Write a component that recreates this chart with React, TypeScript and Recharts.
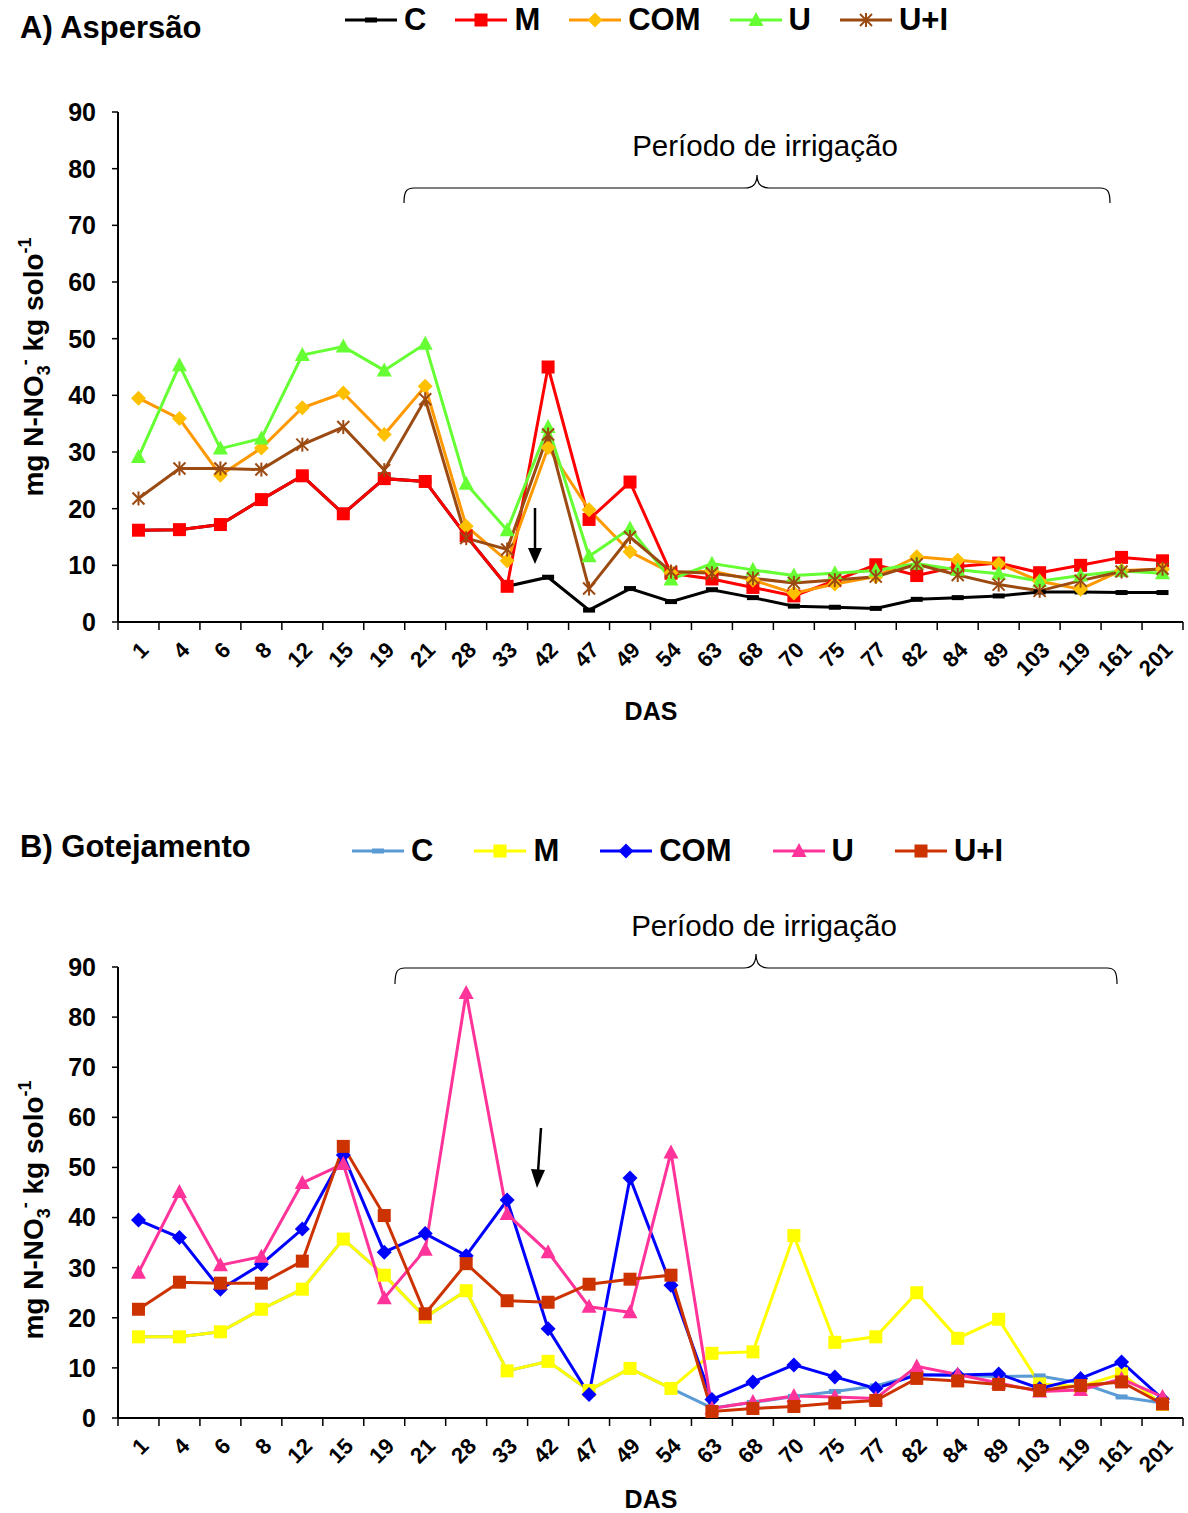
import React from 'react';
import { LineChart, Line, XAxis, YAxis, Legend } from 'recharts';

const FONT = '"Liberation Sans", Arial, sans-serif';

// DAS categories
const das = ['1', '4', '6', '8', '12', '15', '19', '21', '28', '33', '42', '47', '49', '54', '63', '68', '70', '75', '77', '82', '84', '89', '103', '119', '161', '201'];
const yTicks = [0, 10, 20, 30, 40, 50, 60, 70, 80, 90];

// A) Aspersão
const aspC = [16.2, 16.3, 17.2, 21.6, 25.8, 19.1, 25.3, 24.8, 15.2, 6.3, 7.9, 2.1, 5.9, 3.6, 5.7, 4.3, 2.8, 2.6, 2.4, 4.0, 4.3, 4.6, 5.3, 5.3, 5.2, 5.2];
const aspM = [16.2, 16.3, 17.2, 21.6, 25.8, 19.1, 25.3, 24.8, 15.2, 6.3, 45.0, 18.1, 24.7, 8.6, 7.6, 6.1, 4.6, 7.3, 10.1, 8.2, 9.8, 10.4, 8.7, 10.0, 11.4, 10.8];
const aspCOM = [39.5, 35.9, 25.9, 30.7, 37.8, 40.4, 33.1, 41.6, 16.9, 10.8, 30.8, 19.8, 12.4, 8.7, 9.0, 7.4, 5.1, 6.7, 8.0, 11.5, 10.9, 10.3, 7.2, 5.8, 9.1, 9.3];
const aspU = [29.1, 45.3, 30.6, 32.4, 47.1, 48.6, 44.4, 49.1, 24.4, 16.2, 34.4, 11.6, 16.5, 7.5, 10.3, 9.2, 8.2, 8.6, 9.1, 10.3, 9.2, 8.5, 7.2, 8.2, 9.0, 8.6];
const aspUI = [21.8, 27.1, 27.1, 26.9, 31.3, 34.4, 26.8, 39.3, 14.8, 12.8, 33.1, 5.9, 15.0, 8.9, 8.6, 7.7, 6.9, 7.4, 8.0, 10.2, 8.3, 6.6, 5.5, 7.3, 8.9, 9.4];

// B) Gotejamento
const gotC = [16.2, 16.2, 17.2, 21.7, 25.7, 35.7, 28.5, 20.1, 25.4, 9.4, 11.3, 5.5, 9.9, 5.9, 2.0, 3.1, 4.3, 5.3, 6.4, 8.7, 8.5, 8.3, 8.4, 7.0, 4.2, 3.0];
const gotM = [16.2, 16.2, 17.2, 21.7, 25.7, 35.7, 28.5, 20.1, 25.4, 9.4, 11.3, 5.5, 9.9, 5.9, 12.9, 13.2, 36.4, 15.1, 16.2, 25.0, 15.9, 19.7, 6.8, 6.3, 8.8, 2.7];
const gotCOM = [39.5, 36.0, 25.7, 30.7, 37.7, 52.5, 33.1, 36.8, 32.4, 43.5, 17.8, 4.7, 47.9, 26.5, 3.7, 7.2, 10.6, 8.2, 5.9, 8.6, 8.6, 8.8, 5.9, 7.9, 11.2, 3.8];
const gotU = [29.0, 45.1, 30.5, 32.2, 46.9, 50.7, 23.9, 33.6, 84.8, 40.7, 33.1, 22.2, 21.1, 53.0, 1.9, 3.2, 4.4, 4.2, 3.9, 10.3, 8.7, 7.0, 5.3, 5.6, 7.8, 4.2];
const gotUI = [21.7, 27.1, 26.9, 26.9, 31.3, 54.2, 40.4, 20.8, 30.8, 23.4, 23.1, 26.7, 27.7, 28.5, 1.3, 1.9, 2.3, 3.0, 3.5, 7.9, 7.4, 6.7, 5.5, 6.5, 7.2, 2.8];

type Shape = 'dash' | 'square' | 'diamond' | 'triangle' | 'star';
type Serie = { key: string; name: string; stroke: string; fill: string; shape: Shape };

const seriesA: Serie[] = [
  { key: 'C', name: 'C', stroke: '#000000', fill: '#000000', shape: 'dash' },
  { key: 'M', name: 'M', stroke: '#FF0000', fill: '#FF0000', shape: 'square' },
  { key: 'COM', name: 'COM', stroke: '#FF9900', fill: '#FFC000', shape: 'diamond' },
  { key: 'U', name: 'U', stroke: '#66FF33', fill: '#66FF33', shape: 'triangle' },
  { key: 'UI', name: 'U+I', stroke: '#9B4A12', fill: '#9B4A12', shape: 'star' },
];

const seriesB: Serie[] = [
  { key: 'C', name: 'C', stroke: '#5B9BD5', fill: '#5B9BD5', shape: 'dash' },
  { key: 'M', name: 'M', stroke: '#FFFF00', fill: '#FFFF00', shape: 'square' },
  { key: 'COM', name: 'COM', stroke: '#0000FF', fill: '#0000FF', shape: 'diamond' },
  { key: 'U', name: 'U', stroke: '#FF3399', fill: '#FF3399', shape: 'triangle' },
  { key: 'UI', name: 'U+I', stroke: '#CC3300', fill: '#CC3300', shape: 'square' },
];

const rowsA = das.map((d, i) => ({ das: d, C: aspC[i], M: aspM[i], COM: aspCOM[i], U: aspU[i], UI: aspUI[i] }));
const rowsB = das.map((d, i) => ({ das: d, C: gotC[i], M: gotM[i], COM: gotCOM[i], U: gotU[i], UI: gotUI[i] }));

const PLOT_W = 1065;
const HALF_BAND = PLOT_W / das.length / 2;

function Marker({ s, cx, cy }: { s: Serie; cx: number; cy: number }) {
  switch (s.shape) {
    case 'dash':
      return <rect x={cx - 6} y={cy - 2.5} width={12} height={5} fill={s.fill} />;
    case 'square':
      return <rect x={cx - 6.5} y={cy - 6.5} width={13} height={13} fill={s.fill} />;
    case 'diamond':
      return <polygon points={`${cx},${cy - 7.5} ${cx + 7.5},${cy} ${cx},${cy + 7.5} ${cx - 7.5},${cy}`} fill={s.fill} />;
    case 'triangle':
      return <polygon points={`${cx},${cy - 8} ${cx + 7.5},${cy + 6} ${cx - 7.5},${cy + 6}`} fill={s.fill} />;
    case 'star':
      return (
        <g stroke={s.fill} strokeWidth={2}>
          <line x1={cx - 6} y1={cy - 6} x2={cx + 6} y2={cy + 6} />
          <line x1={cx - 6} y1={cy + 6} x2={cx + 6} y2={cy - 6} />
          <line x1={cx} y1={cy - 7} x2={cx} y2={cy + 7} />
        </g>
      );
  }
  return null;
}

// tick label + Excel-style tick marks between categories
function XTick(props: any) {
  const { x, y, payload, index } = props;
  const ax = x + 6;
  const ay = y + 24;
  const last = index === das.length - 1;
  return (
    <g>
      <line x1={x - HALF_BAND} y1={y} x2={x - HALF_BAND} y2={y + 8} stroke="#000" strokeWidth={1.5} />
      {last && <line x1={x + HALF_BAND} y1={y} x2={x + HALF_BAND} y2={y + 8} stroke="#000" strokeWidth={1.5} />}
      <text
        x={ax}
        y={ay}
        dy="0.35em"
        textAnchor="end"
        transform={`rotate(-45 ${ax} ${ay})`}
        fontSize={22}
        fontWeight="bold"
        fontFamily={FONT}
        fill="#000"
      >
        {payload.value}
      </text>
    </g>
  );
}

function LegendRow({ items, gap }: { items: Serie[]; gap: number }) {
  return (
    <div style={{ display: 'flex', alignItems: 'center', fontFamily: FONT, fontWeight: 'bold', fontSize: 31, color: '#000' }}>
      {items.map((s, i) => (
        <div key={s.key} style={{ display: 'flex', alignItems: 'center', marginLeft: i ? gap : 0 }}>
          <svg width={52} height={20} style={{ display: 'block' }}>
            <line x1={0} y1={10} x2={52} y2={10} stroke={s.stroke} strokeWidth={3} />
            <Marker s={s} cx={26} cy={10} />
          </svg>
          <span style={{ marginLeft: 7, lineHeight: '34px' }}>{s.name}</span>
        </div>
      ))}
    </div>
  );
}

type PanelProps = {
  rows: any[];
  series: Serie[];
  top: number;
  height: number;
  marginTop: number;
  marginBottom: number;
  legendTop: number;
  legendLeft: number;
  legendGap: number;
};

function Panel({ rows, series, top, height, marginTop, marginBottom, legendTop, legendLeft, legendGap }: PanelProps) {
  return (
    <div style={{ position: 'absolute', left: 0, top }}>
      <LineChart width={1188} height={height} data={rows} margin={{ top: marginTop, right: 5, bottom: marginBottom, left: 0 }}>
        <XAxis
          dataKey="das"
          interval={0}
          padding={{ left: HALF_BAND, right: HALF_BAND }}
          axisLine={{ stroke: '#000', strokeWidth: 2 }}
          tickLine={false}
          tickSize={0}
          tickMargin={0}
          tick={<XTick />}
          height={60}
        />
        <YAxis
          domain={[0, 90]}
          ticks={yTicks}
          interval={0}
          width={118}
          tickSize={6}
          tickMargin={16}
          axisLine={{ stroke: '#000', strokeWidth: 2 }}
          tickLine={{ stroke: '#000', strokeWidth: 1.5 }}
          tick={{ fill: '#000', fontSize: 25, fontWeight: 'bold', fontFamily: FONT }}
        />
        <Legend
          layout="vertical"
          align="center"
          verticalAlign="middle"
          wrapperStyle={{ top: legendTop, left: legendLeft, width: 'auto', height: 'auto' }}
          content={() => <LegendRow items={series} gap={legendGap} />}
        />
        {series.map((s) => (
          <Line
            key={s.key}
            type="linear"
            dataKey={s.key}
            name={s.name}
            stroke={s.stroke}
            strokeWidth={3}
            activeDot={false}
            isAnimationActive={false}
            dot={(p: any) =>
              p.cy == null ? <g key={`${s.key}-${p.index}`} /> : (
                <g key={`${s.key}-${p.index}`}>
                  <Marker s={s} cx={p.cx} cy={p.cy} />
                </g>
              )
            }
          />
        ))}
      </LineChart>
    </div>
  );
}

function YLabel({ x, y }: { x: number; y: number }) {
  return (
    <text transform={`translate(${x} ${y}) rotate(-90)`} textAnchor="middle" fontSize={28} fontWeight="bold" fontFamily={FONT} fill="#000">
      <tspan>mg N-NO</tspan>
      <tspan fontSize={18} dy={7}>3</tspan>
      <tspan fontSize={18} dy={-19}>-</tspan>
      <tspan dy={12}> kg solo</tspan>
      <tspan fontSize={18} dy={-12}>-1</tspan>
    </text>
  );
}

function Brace({ x1, x2, y, tipY, endY }: { x1: number; x2: number; y: number; tipY: number; endY: number }) {
  const m = (x1 + x2) / 2;
  const d = `M${x1},${endY} C${x1},${y + 4} ${x1 + 2},${y} ${x1 + 10},${y} L${m - 12},${y} C${m - 4},${y} ${m},${y - 4} ${m},${tipY} C${m},${y - 4} ${m + 4},${y} ${m + 12},${y} L${x2 - 10},${y} C${x2 - 2},${y} ${x2},${y + 4} ${x2},${endY}`;
  return <path d={d} fill="none" stroke="#000" strokeWidth={1.2} />;
}

function Overlay() {
  return (
    <svg width={1188} height={1513} style={{ position: 'absolute', left: 0, top: 0, pointerEvents: 'none' }}>
      <text x={20} y={38} fontSize={31} fontWeight="bold" fontFamily={FONT} fill="#000">A) Aspersão</text>
      <text x={20} y={857} fontSize={31} fontWeight="bold" fontFamily={FONT} fill="#000">B) Gotejamento</text>

      <YLabel x={43} y={367} />
      <YLabel x={43} y={1210} />

      <text x={765} y={156} fontSize={29.5} fontFamily={FONT} textAnchor="middle" fill="#000">Período de irrigação</text>
      <Brace x1={404} x2={1110} y={188} tipY={175} endY={203} />
      <text x={764} y={936} fontSize={29.5} fontFamily={FONT} textAnchor="middle" fill="#000">Período de irrigação</text>
      <Brace x1={395} x2={1117} y={968} tipY={954} endY={984} />

      <line x1={535} y1={508} x2={535} y2={550} stroke="#000" strokeWidth={2.5} />
      <polygon points="528,548 542,548 535,564" fill="#000" />
      <line x1={541} y1={1128} x2={538} y2={1172} stroke="#000" strokeWidth={2.5} />
      <polygon points="531,1169 545,1170 537,1188" fill="#000" />

      <text x={651} y={720} fontSize={25} fontWeight="bold" fontFamily={FONT} textAnchor="middle" fill="#000">DAS</text>
      <text x={651} y={1508} fontSize={25} fontWeight="bold" fontFamily={FONT} textAnchor="middle" fill="#000">DAS</text>
    </svg>
  );
}

export default function App() {
  return (
    <div style={{ position: 'absolute', left: 0, top: 0, width: 1188, height: 1513, background: '#fff', overflow: 'hidden' }}>
      <Panel rows={rowsA} series={seriesA} top={0} height={760} marginTop={112} marginBottom={78} legendTop={3} legendLeft={345} legendGap={29} />
      <Panel rows={rowsB} series={seriesB} top={760} height={753} marginTop={207} marginBottom={35} legendTop={74} legendLeft={352} legendGap={41} />
      <Overlay />
    </div>
  );
}
